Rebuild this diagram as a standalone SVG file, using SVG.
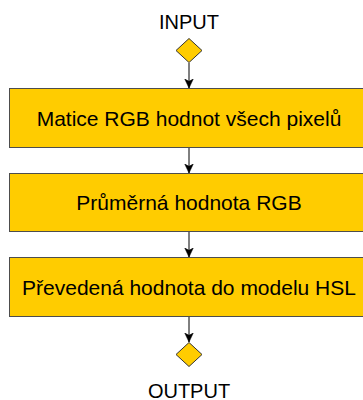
<svg xmlns="http://www.w3.org/2000/svg" width="363" height="400" viewBox="0 0 363 400">
<style>
.box{fill:#FFCC00;stroke:#4d4d4d;stroke-width:1}
.dia{fill:#FFCC00;stroke:#333;stroke-width:1}
.lbl{font-family:"Liberation Sans",Arial,sans-serif;font-size:20px;fill:#000;text-anchor:middle}
.big{font-size:21px}
.edge{stroke:#000;stroke-width:1;fill:none;marker-end:url(#arr)}
</style>
<defs>
<marker id="arr" markerUnits="userSpaceOnUse" markerWidth="10" markerHeight="10" viewBox="-8 -4 9 8" refX="0" refY="0" orient="auto">
<path d="M0,0 L-8,-3.8 L-6,0 L-8,3.8 Z" fill="#000" stroke="#000" stroke-width="0.5"/>
</marker>
</defs>
<g id="connectors">
<line class="edge" x1="189" y1="63" x2="189" y2="88"/>
<line class="edge" x1="189" y1="148" x2="189" y2="173"/>
<line class="edge" x1="189" y1="232" x2="189" y2="257"/>
<line class="edge" x1="189" y1="317" x2="189" y2="342"/>
</g>
<g id="input">
<text class="lbl" x="189" y="28.5">INPUT</text>
<polygon class="dia" points="189,38.5 202,50.5 189,62.5 176,50.5"/>
</g>
<g id="n1">
<rect class="box" x="9.5" y="88.5" width="360" height="59"/>
<text class="lbl big" x="189" y="126">Matice RGB hodnot všech pixelů</text>
</g>
<g id="n2">
<rect class="box" x="9.5" y="173.5" width="360" height="58"/>
<text class="lbl big" x="189" y="210">Průměrná hodnota RGB</text>
</g>
<g id="n3">
<rect class="box" x="9.5" y="257.5" width="360" height="59"/>
<text class="lbl big" x="189" y="294.5">Převedená hodnota do modelu HSL</text>
</g>
<g id="output">
<polygon class="dia" points="189,342.5 202,354.5 189,366.5 176,354.5"/>
<text class="lbl" x="189" y="397.5">OUTPUT</text>
</g>
</svg>
